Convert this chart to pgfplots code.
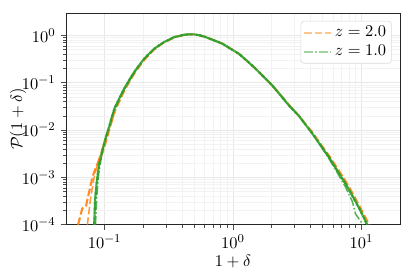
\documentclass[border=0pt]{standalone}
\usepackage{pgfplots}
\pgfplotsset{compat=1.18}
\definecolor{tabor}{HTML}{FF7F0E}
\definecolor{tabgr}{HTML}{2CA02C}
\definecolor{taborl}{HTML}{FFBF86}
\definecolor{tabgrl}{HTML}{95CF95}
\pgfplotstableread{
x y
0.0622 1e-4
0.067 2.2e-4
0.0717 2.5e-4
0.0758 4.9e-4
0.0804 1.0e-3
0.0853 1.6e-3
0.0963 3.3e-3
0.101 5.0e-3
0.108 0.0095
0.119 0.024
0.130 0.040
0.142 0.067
0.155 0.102
0.170 0.155
0.185 0.215
0.203 0.30
0.222 0.39
0.243 0.50
0.265 0.60
0.290 0.71
0.318 0.80
0.348 0.90
0.38 0.97
0.415 1.02
0.455 1.05
0.497 1.05
0.545 1.01
0.60 0.94
0.70 0.80
0.826 0.67
0.95 0.53
1.11 0.41
1.28 0.293
1.50 0.198
1.75 0.130
2.02 0.088
2.35 0.055
2.73 0.034
3.26 0.020
3.7 0.0130
4.14 0.0090
4.8 0.0051
5.58 0.0029
6.5 0.00155
7.54 8.3e-4
8.5 4.7e-4
9.56 2.6e-4
10.5 1.6e-4
11.5 1e-4
}\zA
\pgfplotstableread{
x y
0.0735 1e-4
0.078 3.8e-4
0.0829 1e-3
0.0900 2.4e-3
0.0990 5.2e-3
0.110 0.012
0.121 0.024
}\zAb
\pgfplotstableread{
x y
0.083 1e-4
0.0844 3.3e-4
0.0866 7.3e-4
0.0907 1.9e-3
0.0993 5.3e-3
0.108 0.011
0.119 0.028
0.130 0.046
0.142 0.075
0.155 0.111
0.170 0.168
0.185 0.228
0.203 0.32
0.222 0.41
0.243 0.52
0.265 0.61
0.290 0.72
0.318 0.81
0.348 0.92
0.38 0.97
0.415 1.03
0.455 1.05
0.497 1.05
0.545 1.01
0.60 0.94
0.70 0.80
0.826 0.67
0.95 0.53
1.11 0.41
1.28 0.293
1.50 0.198
1.75 0.130
2.02 0.088
2.35 0.054
2.73 0.033
3.26 0.020
3.7 0.0127
4.14 0.0085
4.8 0.0048
5.58 0.0027
6.5 0.00138
7.54 7.3e-4
8.5 4.1e-4
9.56 2.3e-4
10.4 1.45e-4
11.1 1e-4
}\zB
\pgfplotstableread{
x y
0.0850 1e-4
0.0870 4.0e-4
0.0900 1.2e-3
0.0960 3.5e-3
0.104 8.5e-3
0.115 0.021
0.130 0.045
0.150 0.095
0.175 0.18
}\zBb
\pgfplotstableread{
x y
4.8 0.0047
5.58 0.0025
6.5 0.00125
7.54 6.2e-4
8.5 3.1e-4
9.0 1.7e-4
10.3 1e-4
}\zBc
\begin{document}
\begin{tikzpicture}
\useasboundingbox (-44pt,-35pt) rectangle (233pt,150pt);
\begin{axis}[
  at={(0,0)}, anchor=south west,
  scale only axis, width=223pt, height=141pt,
  xmode=log, ymode=log,
  xmin=0.05, xmax=20, ymin=1e-4, ymax=2.9,
  xtick={0.1,1,10}, ytick={1e-4,1e-3,1e-2,1e-1,1},
  tick align=outside, tick pos=left,
  axis line style={black!85},
  major tick length=3.5pt, minor tick length=2pt,
  every tick/.style={black!70},
  tick label style={font=\fontsize{11}{13}\selectfont},
  label style={font=\fontsize{11}{13}\selectfont},
  grid=both,
  major grid style={gray!18, line width=0.5pt},
  minor grid style={gray!10, line width=0.4pt},
  xlabel={$1+\delta$}, ylabel={$\mathcal{P}(1+\delta)$},
  xlabel style={yshift=3pt},
  ylabel style={at={(axis description cs:-0.143,0.5)}, anchor=center},
  legend pos=north east,
  legend style={font=\fontsize{11}{13}\selectfont, draw=gray!30, rounded corners=2pt, fill=white, inner sep=1.5pt, row sep=0pt, at={(0.975,0.965)}},
  legend cell align=left,
]
\addplot[tabor, line width=1.4pt, dash pattern=on 5pt off 2pt, opacity=0.9,
  legend image code/.code={\draw[taborl, line width=1.2pt, dash pattern=on 5pt off 2pt] (0pt,0pt) -- (18pt,0pt);}]
  table {\zA};
\addlegendentry{$z=2.0$}
\addplot[tabgr, line width=1.4pt, dash pattern=on 6pt off 1.5pt on 1pt off 1.5pt, opacity=0.9,
  legend image code/.code={\draw[tabgrl, line width=1.2pt, dash pattern=on 6pt off 1.5pt on 1pt off 1.5pt] (0pt,0pt) -- (18pt,0pt);}]
  table {\zB};
\addlegendentry{$z=1.0$}
\addplot[tabor, line width=1.0pt, dash pattern=on 5pt off 2pt, opacity=0.8, forget plot] table {\zAb};
\addplot[tabgr, line width=1.4pt, dash pattern=on 6pt off 1.5pt on 1pt off 1.5pt, dash phase=4pt, opacity=0.9, forget plot] table {\zB};
\addplot[tabgr, line width=1.0pt, dash pattern=on 6pt off 1.5pt on 1pt off 1.5pt, opacity=0.8, forget plot] table {\zBb};
\addplot[tabgr, line width=1.0pt, dash pattern=on 6pt off 1.5pt on 1pt off 1.5pt, opacity=0.8, forget plot] table {\zBc};
\end{axis}
\end{tikzpicture}
\end{document}
